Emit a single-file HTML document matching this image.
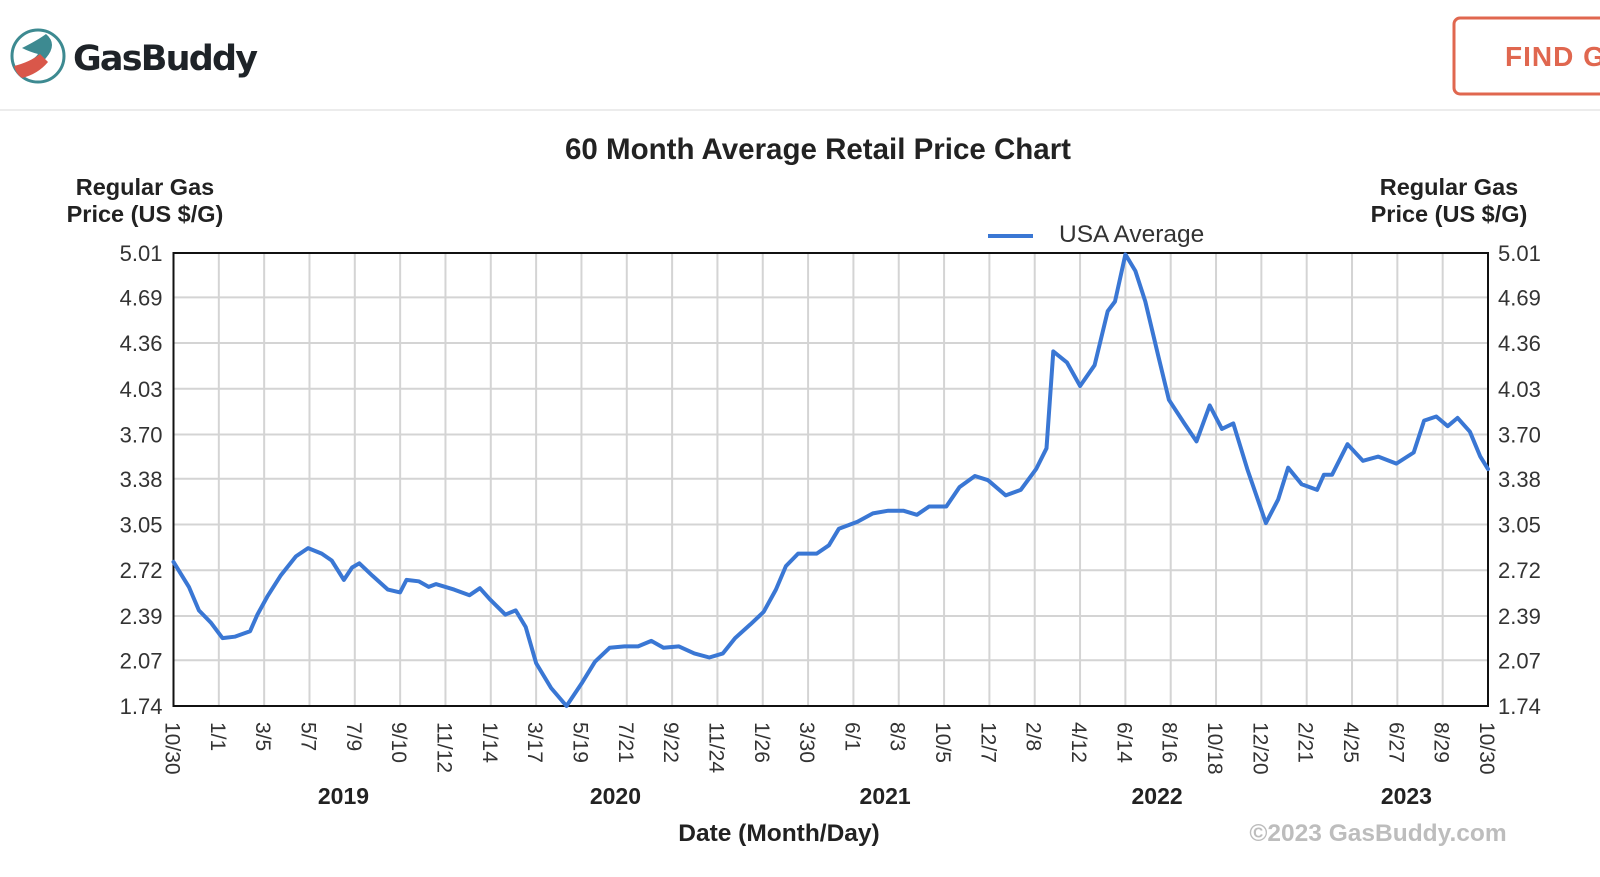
<!DOCTYPE html>
<html><head><meta charset="utf-8"><style>
html,body{margin:0;padding:0;background:#fff;width:1600px;height:877px;overflow:hidden;font-family:"Liberation Sans",Arial,sans-serif}
</style></head><body>
<svg id="chart" width="1600" height="877" viewBox="0 0 1600 877" xmlns="http://www.w3.org/2000/svg">
  <g>
    <circle cx="38" cy="56" r="26" fill="#fff" stroke="#3d8a91" stroke-width="3"/>
    <path d="M22 48 Q38 40 46 34 Q58 44 46 58 Q40 66 30 74 L22 64 Q34 60 38 54 Q30 52 22 48Z" fill="#3d8a91"/>
    <path d="M14 66 Q30 62 40 54 L48 62 Q38 74 22 78 Q16 74 14 66Z" fill="#d9574a"/>
    <text x="73" y="70" font-size="35" font-weight="bold" fill="#1e2328" font-family="'DejaVu Sans','Liberation Sans',sans-serif" letter-spacing="-1.8">GasBuddy</text>
  </g>
  <line x1="0" y1="110" x2="1600" y2="110" stroke="#ececec" stroke-width="2"/>
  <g>
    <rect x="1454" y="18" width="160" height="76" rx="6" fill="#fff" stroke="#e0674f" stroke-width="3"/>
    <text x="1505" y="66" font-size="28" font-weight="bold" fill="#e0674f" letter-spacing="1">FIND G</text>
  </g>
  <text x="818" y="159" text-anchor="middle" font-size="29.5" font-weight="bold" fill="#222" textLength="506">60 Month Average Retail Price Chart</text>
  <g font-size="23.5" font-weight="bold" fill="#222" text-anchor="middle">
    <text x="145" y="195"><tspan x="145">Regular Gas</tspan><tspan x="145" dy="27">Price (US $/G)</tspan></text>
    <text x="1449" y="195"><tspan x="1449">Regular Gas</tspan><tspan x="1449" dy="27">Price (US $/G)</tspan></text>
  </g>
  <g>
    <line x1="988" y1="236" x2="1033" y2="236" stroke="#3a77d4" stroke-width="4"/>
    <text x="1059" y="242" font-size="24.5" fill="#333">USA Average</text>
  </g>
  <g id="grid"></g>
  <g id="axes"></g>
  <g id="series"></g>
  <text x="779" y="841" text-anchor="middle" font-size="24.5" font-weight="bold" fill="#222">Date (Month/Day)</text>
  <text x="1378" y="841" text-anchor="middle" font-size="24.5" font-weight="bold" fill="#bdbdbd">©2023 GasBuddy.com</text>
</svg>
<script>
const yTicks = [1.74, 2.07, 2.39, 2.72, 3.05, 3.38, 3.70, 4.03, 4.36, 4.69, 5.01];
const xLabels = ["10/30","1/1","3/5","5/7","7/9","9/10","11/12","1/14","3/17","5/19","7/21","9/22","11/24","1/26","3/30","6/1","8/3","10/5","12/7","2/8","4/12","6/14","8/16","10/18","12/20","2/21","4/25","6/27","8/29","10/30"];
const yearLabels = ["2019","2020","2021","2022","2023"];
const yearPos = [3.75, 9.75, 15.7, 21.7, 27.2];
const tPos = [0,0.34,0.56,0.83,1.08,1.35,1.69,1.85,2.07,2.36,2.70,2.97,3.27,3.49,3.76,3.94,4.10,4.39,4.73,5.0,5.14,5.41,5.63,5.79,6.19,6.53,6.76,6.98,7.32,7.55,7.77,8.0,8.33,8.67,9.0,9.30,9.62,9.95,10.25,10.54,10.81,11.15,11.49,11.82,12.12,12.39,12.73,13.02,13.29,13.51,13.78,14.19,14.46,14.68,15.09,15.43,15.77,16.10,16.40,16.67,17.05,17.34,17.68,17.97,18.36,18.69,19.03,19.26,19.41,19.71,20.0,20.32,20.61,20.77,21.0,21.22,21.44,21.73,21.96,22.30,22.57,22.86,23.13,23.38,23.69,24.10,24.37,24.59,24.89,25.23,25.38,25.56,25.90,26.24,26.58,26.98,27.36,27.59,27.86,28.11,28.33,28.60,28.83,29.0];
const prices = [2.78,2.60,2.43,2.34,2.23,2.24,2.28,2.40,2.53,2.68,2.82,2.88,2.84,2.79,2.65,2.74,2.77,2.68,2.58,2.56,2.65,2.64,2.60,2.62,2.58,2.54,2.59,2.51,2.40,2.43,2.31,2.05,1.87,1.74,1.90,2.06,2.16,2.17,2.17,2.21,2.16,2.17,2.12,2.09,2.12,2.23,2.33,2.42,2.58,2.75,2.84,2.84,2.90,3.02,3.07,3.13,3.15,3.15,3.12,3.18,3.18,3.32,3.40,3.37,3.26,3.30,3.45,3.60,4.30,4.22,4.05,4.20,4.59,4.66,5.0,4.88,4.66,4.26,3.95,3.78,3.65,3.91,3.74,3.78,3.45,3.06,3.23,3.46,3.34,3.30,3.41,3.41,3.63,3.51,3.54,3.49,3.57,3.80,3.83,3.76,3.82,3.72,3.54,3.45];

const L=173.5, R=1488, T=253, B=706, yMin=1.74, yMax=5.01, nInt=29;
const xScale = t => L + (R-L)*t/nInt;
const yScale = v => B - (B-T)*(v-yMin)/(yMax-yMin);
const NS="http://www.w3.org/2000/svg";
function mk(tag, attrs, parent){const e=document.createElementNS(NS,tag);for(const k in attrs)e.setAttribute(k,attrs[k]);parent.appendChild(e);return e;}
const grid=document.getElementById('grid'), axes=document.getElementById('axes'), series=document.getElementById('series');

for(let i=0;i<yTicks.length;i++){
  const y=yScale(yTicks[i]);
  const g=mk('line',{x1:L,x2:R,y1:y,y2:y,stroke:'#d4d4d4','stroke-width':2},grid);
  
  
  const tl=mk('text',{x:L-11,y:y+8,'text-anchor':'end','font-size':22,fill:'#333'},axes);
  tl.textContent=yTicks[i].toFixed(2);
  
  
  const tr=mk('text',{x:R+10,y:y+8,'text-anchor':'start','font-size':22,fill:'#333'},axes);
  tr.textContent=yTicks[i].toFixed(2);
  
  
}
for(let i=0;i<xLabels.length;i++){
  const x=xScale(i);
  const g=mk('line',{x1:x,x2:x,y1:T,y2:B,stroke:'#d4d4d4','stroke-width':2},grid);
  
  
  const t=mk('text',{x:0,y:0,'font-size':21,fill:'#333',transform:`translate(${x-8},${B+16}) rotate(90)`},axes);
  t.textContent=xLabels[i];
  
  
}
for(let i=0;i<yearLabels.length;i++){
  const t=mk('text',{x:xScale(yearPos[i]),y:804,'text-anchor':'middle','font-size':23,'font-weight':'bold',fill:'#222'},axes);
  t.textContent=yearLabels[i];
  
  
}
const frame=mk('rect',{x:L,y:T,width:R-L,height:B-T,fill:'none',stroke:'#111','stroke-width':2},axes);


let d='';
for(let i=0;i<tPos.length;i++){d+=(i?'L':'M')+xScale(tPos[i]).toFixed(1)+' '+yScale(prices[i]).toFixed(1);}
const line=mk('path',{d:d,fill:'none',stroke:'#3a77d4','stroke-width':4,'stroke-linejoin':'round','stroke-linecap':'round'},series);


</script>
</body></html>
